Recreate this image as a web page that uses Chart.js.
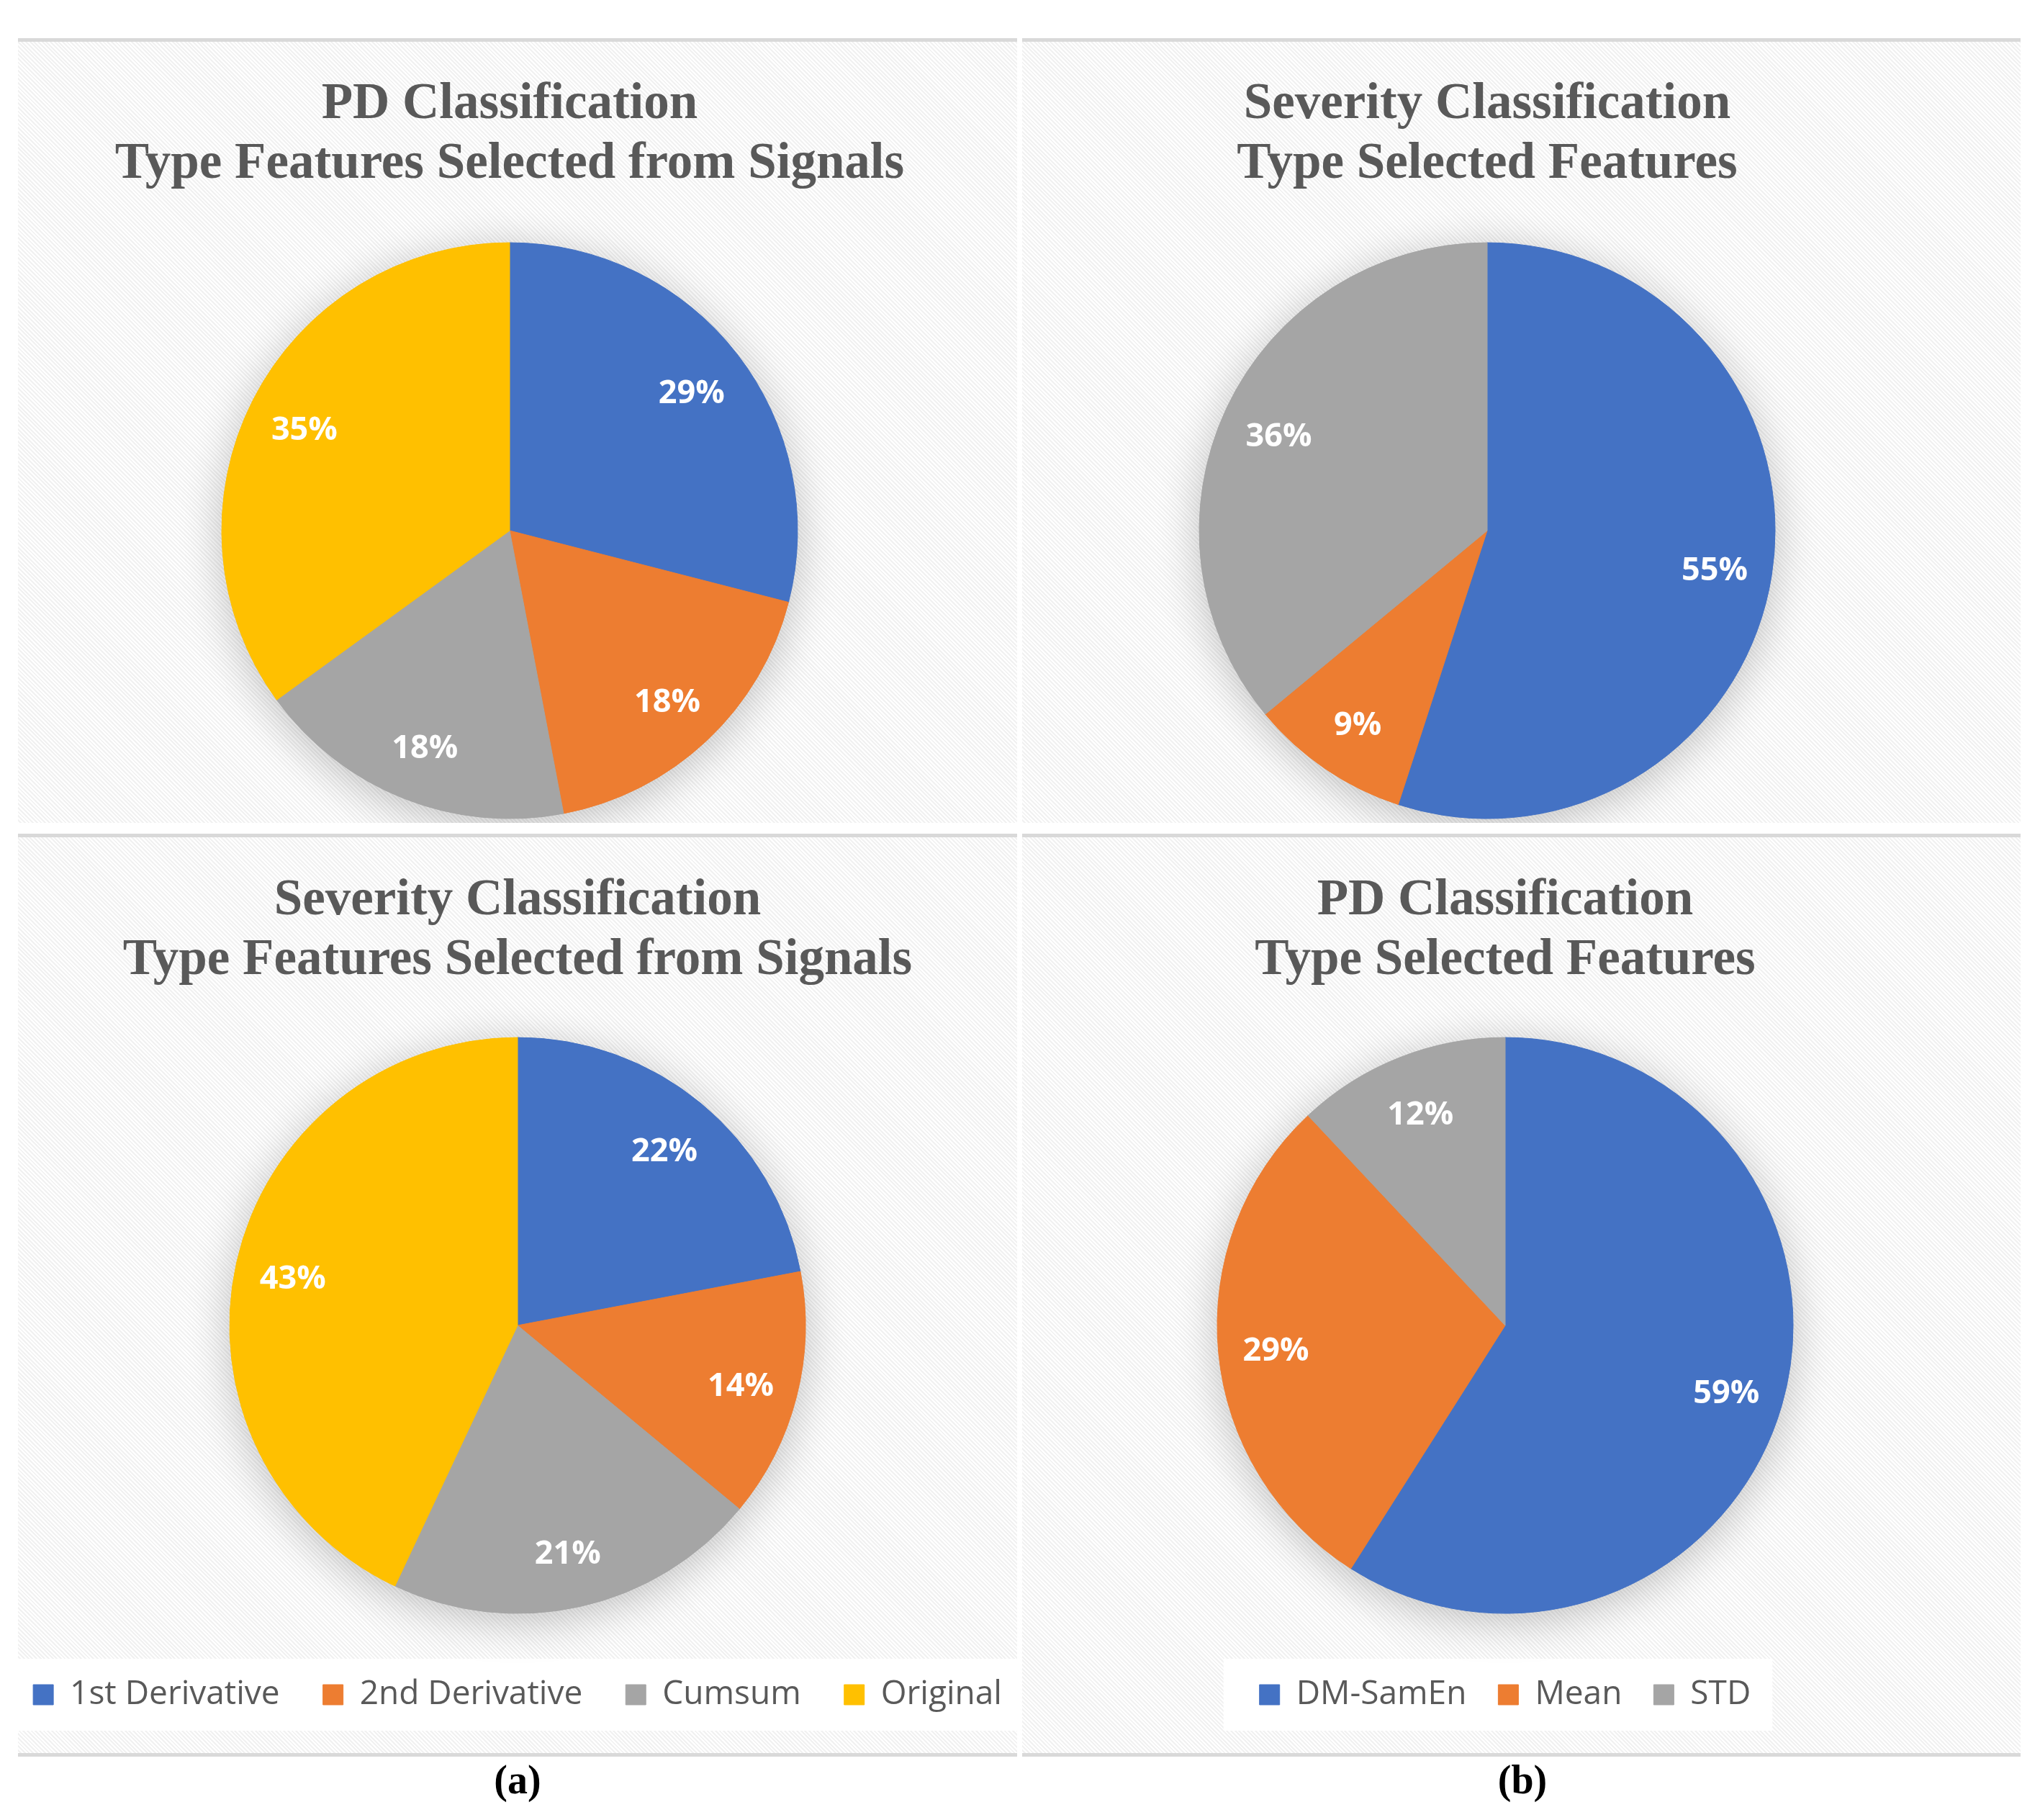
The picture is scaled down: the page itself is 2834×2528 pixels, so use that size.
<!DOCTYPE html>
<html>
<head>
<meta charset="utf-8">
<script src="https://cdn.jsdelivr.net/npm/chart.js@4.4.1/dist/chart.umd.min.js"></script>
<style>
  body { margin: 0; width: 2834px; height: 2528px; background: #fff; position: relative; overflow: hidden; }
  .panel {
    position: absolute; box-sizing: border-box;
    border-top: 5px solid #d9d9d9;
    background: repeating-linear-gradient(45deg, #ffffff 0 2px, #f1f1f1 2px 4px);
  }
  .panel.bottom { border-bottom: 5px solid #d9d9d9; }
  canvas { position: absolute; }
  .cap { position: absolute; top: 2440px; width: 200px; text-align: center;
         font: bold 56px "Liberation Serif", "Times New Roman", serif; color: #000; line-height: 64px; }
</style>
</head>
<body>
<div class="panel" style="left:25px;top:53px;width:1388px;height:1090px"></div>
<div class="panel" style="left:1420px;top:53px;width:1387px;height:1090px"></div>
<div class="panel bottom" style="left:25px;top:1158px;width:1388px;height:1282px"></div>
<div class="panel bottom" style="left:1420px;top:1158px;width:1387px;height:1282px"></div>

<canvas id="pdSignals" width="1366" height="1085" style="left:25px;top:58px"></canvas>
<canvas id="sevSelected" width="1292" height="1085" style="left:1420px;top:58px"></canvas>
<canvas id="sevSignals" width="1478" height="1272" style="left:-20px;top:1163px"></canvas>
<canvas id="pdSelected" width="1342" height="1272" style="left:1420px;top:1163px"></canvas>

<div class="cap" style="left:619px">(a)</div>
<div class="cap" style="left:2015px">(b)</div>

<script>
// feature types
const signalTypes = ["1st Derivative", "2nd Derivative", "Cumsum", "Original"];
const selectedTypes = ["DM-SamEn", "Mean", "STD"];

// shares in percent
const pdSignalValues = [29, 18, 18, 35];
const sevSelectedValues = [55, 9, 36];
const sevSignalValues = [22, 14, 21, 43];
const pdSelectedValues = [59, 29, 12];

const pdSignalTitle = ["PD Classification", "Type Features Selected from Signals"];
const sevSelectedTitle = ["Severity Classification", "Type Selected Features"];
const sevSignalTitle = ["Severity Classification", "Type Features Selected from Signals"];
const pdSelectedTitle = ["PD Classification", "Type Selected Features"];

const signalColors = ["#4472c4", "#ed7d31", "#a5a5a5", "#ffc000"];
const selectedColors = ["#4472c4", "#ed7d31", "#a5a5a5"];

// soft shadow under the whole pie
const pieShadow = {
  id: "pieShadow",
  beforeDatasetsDraw(chart) {
    const arc = chart.getDatasetMeta(0).data[0];
    const p = arc.getProps(["x", "y", "outerRadius"], true);
    const ctx = chart.ctx;
    ctx.save();
    ctx.shadowColor = "rgba(0,0,0,0.24)";
    ctx.shadowBlur = 60;
    ctx.shadowOffsetY = 10;
    ctx.fillStyle = "#bfbfbf";
    ctx.beginPath();
    ctx.arc(p.x, p.y, p.outerRadius, 0, Math.PI * 2);
    ctx.fill();
    ctx.restore();
  },
};

// percent labels inside slices
const sliceLabels = {
  id: "sliceLabels",
  afterDatasetsDraw(chart) {
    const ctx = chart.ctx;
    const values = chart.data.datasets[0].data;
    ctx.save();
    ctx.font = 'bold 45px "Open Sans"';
    ctx.fillStyle = "#ffffff";
    ctx.textAlign = "center";
    ctx.textBaseline = "middle";
    chart.getDatasetMeta(0).data.forEach((arc, i) => {
      const p = arc.getProps(["x", "y", "startAngle", "endAngle", "outerRadius"], true);
      const mid = (p.startAngle + p.endAngle) / 2;
      const r = p.outerRadius * 0.8;
      ctx.fillText(values[i] + "%", p.x + Math.cos(mid) * r, p.y + Math.sin(mid) * r + 6);
    });
    ctx.restore();
  },
};

// white strip behind the legend
const legendPanel = {
  id: "legendPanel",
  beforeDraw(chart, args, opts) {
    const lg = chart.legend;
    if (!lg || !lg.options.display || !lg.legendHitBoxes.length) return;
    const boxes = lg.legendHitBoxes;
    const cy = boxes[0].top + boxes[0].height / 2;
    let x0, x1;
    if (opts.span) {
      x0 = opts.span[0];
      x1 = opts.span[1];
    } else {
      x0 = Math.min(...boxes.map(b => b.left)) - 50;
      x1 = Math.max(...boxes.map(b => b.left + b.width)) + 30;
    }
    chart.ctx.save();
    chart.ctx.fillStyle = "#ffffff";
    chart.ctx.fillRect(x0, cy - 50, x1 - x0, 100);
    chart.ctx.restore();
  },
};

function makePie(id, title, labels, values, colors, legendGap, span) {
  const withLegend = legendGap > 0;
  return new Chart(id, {
    type: "pie",
    data: {
      labels: labels,
      datasets: [{
        data: values,
        backgroundColor: colors,
        borderColor: colors,
        borderWidth: 1,
      }],
    },
    options: {
      responsive: false,
      animation: false,
      events: [],
      radius: 400,
      layout: { padding: { top: 0, left: 0, right: 0, bottom: withLegend ? 48 : 0 } },
      plugins: {
        tooltip: { enabled: false },
        title: {
          display: true,
          text: title,
          color: "#595959",
          font: { family: '"Liberation Serif", "Times New Roman", serif', size: 71, weight: "bold", lineHeight: 1.17 },
          padding: withLegend ? { top: 47, bottom: legendGap - 25 } : { top: 46, bottom: 61 },
        },
        legend: {
          display: withLegend,
          position: "bottom",
          labels: {
            color: "#595959",
            font: { family: '"Open Sans"', size: 46 },
            boxWidth: 28,
            boxHeight: 28,
            padding: legendGap || 10,
          },
        },
        legendPanel: { span: span },
      },
    },
    plugins: [legendPanel, pieShadow, sliceLabels],
  });
}

makePie("pdSignals", pdSignalTitle, signalTypes, pdSignalValues, signalColors, 0, null);
makePie("sevSelected", sevSelectedTitle, selectedTypes, sevSelectedValues, selectedColors, 0, null);
makePie("sevSignals", sevSignalTitle, signalTypes, sevSignalValues, signalColors, 60, [45, 1433]);
makePie("pdSelected", pdSelectedTitle, selectedTypes, pdSelectedValues, selectedColors, 44, null);
</script>
</body>
</html>
